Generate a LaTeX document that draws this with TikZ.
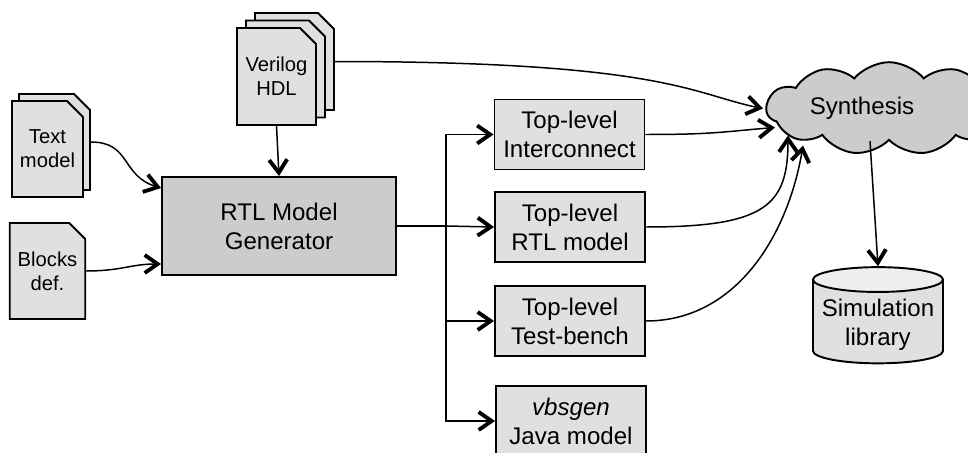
\documentclass[tikz,border=0pt]{standalone}
\usepackage{fontspec}
\setmainfont{Liberation Sans}
\usetikzlibrary{arrows.meta,shapes.misc,shapes.symbols,shapes.geometric,shadows,positioning,calc}
\definecolor{lightgr}{HTML}{E0E0E0}
\definecolor{darkgr}{HTML}{CCCCCC}
\definecolor{topgr}{HTML}{EEEEEE}
\tikzset{
  doc/.style={chamfered rectangle, chamfered rectangle corners=north east,
    chamfered rectangle xsep=0.16cm, chamfered rectangle ysep=0.16cm,
    draw, line width=1.1pt, fill=lightgr, minimum width=1.42cm, minimum height=1.92cm,
    inner sep=0pt, align=center, font=\fontsize{11.5}{13.6}\selectfont},
  outbox/.style={draw, line width=1.1pt, fill=lightgr, minimum width=3cm, minimum height=1.4cm,
    inner sep=0pt, align=center, font=\fontsize{13.7}{16.5}\selectfont},
  conn/.style={line width=0.85pt, -{Straight Barb[length=2.6mm,width=3.6mm,line width=2.2pt]}},
}
\begin{document}
\begin{tikzpicture}[x=0.02cm,y=-0.02cm]
\useasboundingbox (0,0) rectangle (968,453);
% input files
\node [doc, copy shadow={shadow xshift=0.14cm,shadow yshift=0.14cm,fill=lightgr}] (textm) at (47.5,149) {Text\\model};
\node [doc] (blocks) at (47.5,271) {Blocks\\def.};
\node [doc, minimum width=1.58cm, minimum height=1.94cm,
  copy shadow={shadow xshift=0.36cm,shadow yshift=0.3cm,fill=lightgr},
  copy shadow={shadow xshift=0.18cm,shadow yshift=0.15cm,fill=lightgr}] (hdl) at (276.5,76.5) {Verilog\\HDL};
% generator
\node [outbox, fill=darkgr, minimum width=4.68cm, minimum height=1.96cm] (gen) at (279,226) {RTL Model\\Generator};
% outputs
\node [outbox] (inter) at (569.5,134.5) {Top-level\\Interconnect};
\node [outbox] (rtlm) at (570,227) {Top-level\\RTL model};
\node [outbox] (tbench) at (570,321) {Top-level\\Test-bench};
\node [outbox] (java) at (571,421) {\textit{vbsgen}\\Java model};
\node [cloud, cloud puffs=11, cloud puff arc=100, shape aspect=3.4, draw, line width=1.1pt, fill=darkgr,
  minimum width=4.9cm, minimum height=1.3cm, inner sep=0pt,
  font=\fontsize{13.7}{16.5}\selectfont] (synth) at (889,108.5) {Synthesis\hspace*{1.08cm}};
\node [cylinder, shape border rotate=90, shape aspect=0.2, draw, line width=1.1pt,
  cylinder uses custom fill, cylinder body fill=lightgr, cylinder end fill=topgr,
  minimum width=2.6cm, minimum height=1.9cm, align=center,
  font=\fontsize{13.7}{16.5}\selectfont] (lib) at (878,324.5) {Simulation\\library};
% connectors
\draw [conn] ([xshift=0.14cm,yshift=0.14cm]textm.east) .. controls +(40,0) and +(-40,-12) .. ([yshift=0.76cm]gen.west);
\draw [conn] (blocks.east) .. controls +(35,0) and +(-30,0) .. ([yshift=-0.76cm]gen.west);
\draw [conn] (hdl.south) -- (gen.north);
\draw [conn] ([xshift=0.36cm,yshift=0.3cm]hdl.east) .. controls +(330,0) and +(-70,-14) .. ([xshift=-2.52cm]synth.center);
\draw [line width=0.85pt] (gen.east) -- ++(49,0) coordinate (split);
\draw [conn] (split) |- (inter.west);
\draw [conn] (split) -- (rtlm.west);
\draw [conn] (split) |- (tbench.west);
\draw [conn] (split) |- (java.west);
\draw [conn] (inter.east) .. controls +(70,0) and +(-50,4) .. ([xshift=-2.28cm,yshift=-0.38cm]synth.center);
\draw [conn] (rtlm.east) .. controls +(120,0) and +(0,70) .. ([xshift=-2.02cm,yshift=-0.54cm]synth.center);
\draw [conn] (tbench.east) .. controls +(90,0) and +(-15,90) .. ([xshift=-1.72cm,yshift=-0.74cm]synth.center);
\draw [conn] ([xshift=-0.38cm]synth.south) -- (lib.north);
\end{tikzpicture}
\end{document}
